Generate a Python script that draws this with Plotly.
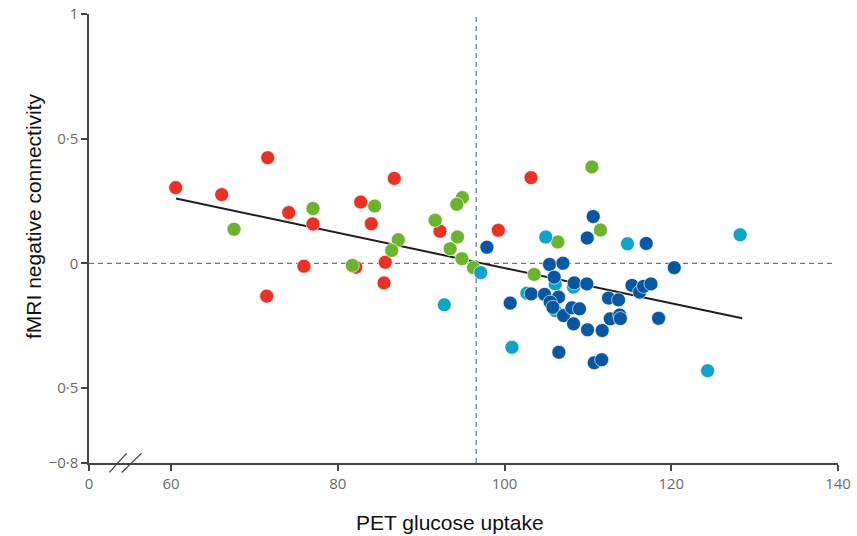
import plotly.graph_objects as go

# Data (PET glucose uptake vs fMRI negative connectivity)
red_x = [60.56, 66.08, 71.60, 74.12, 77.03, 75.95, 71.48, 82.15, 82.75, 84.02, 86.78, 85.70, 85.55, 92.26, 99.26, 103.18]
red_y = [0.304, 0.276, 0.424, 0.204, 0.158, -0.011, -0.131, -0.015, 0.246, 0.159, 0.341, 0.005, -0.078, 0.129, 0.133, 0.344]

green_x = [67.56, 77.03, 84.43, 87.26, 86.47, 81.75, 94.95, 94.28, 91.68, 94.36, 93.48, 94.89, 96.28, 103.56, 110.48, 111.51, 106.40]
green_y = [0.137, 0.220, 0.230, 0.095, 0.052, -0.008, 0.264, 0.237, 0.173, 0.106, 0.059, 0.019, -0.017, -0.044, 0.387, 0.134, 0.086]

light_x = [92.78, 97.15, 104.95, 114.75, 128.26, 124.36, 100.89, 102.69, 106.08, 108.28, 106.08]
light_y = [-0.166, -0.037, 0.106, 0.079, 0.115, -0.430, -0.336, -0.119, -0.082, -0.095, -0.189]

dark_x = [97.89, 110.64, 109.92, 117.00, 120.36, 105.40, 107.01, 105.96, 108.36, 109.88,
          103.20, 104.80, 106.48, 100.68, 105.48, 105.80, 107.08, 108.08, 109.00, 108.28,
          109.96, 111.72, 106.52, 110.76, 111.66, 115.29, 116.20, 116.68, 117.57, 112.48,
          113.68, 112.68, 113.82, 118.48, 113.90]
dark_y = [0.065, 0.188, 0.102, 0.080, -0.017, -0.004, 0.001, -0.055, -0.078, -0.082,
          -0.122, -0.124, -0.135, -0.159, -0.155, -0.176, -0.209, -0.178, -0.182, -0.242,
          -0.266, -0.269, -0.356, -0.398, -0.386, -0.088, -0.115, -0.092, -0.082, -0.139,
          -0.146, -0.222, -0.207, -0.220, -0.221]

fit_x = [60.6, 128.5]
fit_y = [0.26, -0.22]

x_cut = 96.6  # vertical reference line
x_break_origin = 50.165  # position where the "0" tick sits (broken axis)

x_tickvals = [x_break_origin, 60, 80, 100, 120, 140]
x_ticktext = ["0", "60", "80", "100", "120", "140"]
y_tickvals = [1, 0.5, 0, -0.5, -0.8]
y_ticktext = ["1", "0·5", "0", "0·5", "−0·8"]

fig = go.Figure()

fig.add_trace(go.Scatter(x=fit_x, y=fit_y, mode="lines",
                         line=dict(color="#1e1e1e", width=2), showlegend=False, hoverinfo="skip"))

marker_line = dict(color="rgba(255,255,255,0.8)", width=0.8)
for xs, ys, col in [(red_x, red_y, "#ea3224"),
                    (green_x, green_y, "#6cb32e"),
                    (light_x, light_y, "#11a3c7"),
                    (dark_x, dark_y, "#0757a3")]:
    fig.add_trace(go.Scatter(x=xs, y=ys, mode="markers",
                             marker=dict(color=col, size=14, line=marker_line),
                             showlegend=False))

dash_col = "#587c8e"
fig.add_shape(type="line", xref="x", yref="y", x0=x_break_origin, x1=139.4, y0=0, y1=0,
              line=dict(color=dash_col, width=1.2, dash="5px,4px"), layer="below")
fig.add_shape(type="line", xref="x", yref="y", x0=x_cut, x1=x_cut, y0=-0.8, y1=1,
              line=dict(color=dash_col, width=1.2, dash="5px,4px"), layer="below")

# axis break slashes
for x0, x1 in [(0.0271, 0.0503), (0.0437, 0.0704)]:
    fig.add_shape(type="line", xref="paper", yref="paper", x0=x0, x1=x1, y0=-0.021, y1=0.022,
                  line=dict(color="#444444", width=1.3))

tick_font = dict(family="Open Sans, Noto Sans, sans-serif", size=15, color="#6a6a6a")

fig.update_xaxes(range=[x_break_origin, 140], tickvals=x_tickvals, ticktext=x_ticktext,
                 showline=True, linecolor="#444444", linewidth=1.5, ticks="outside",
                 ticklen=6, tickwidth=1.5, tickcolor="#444444", showgrid=False, zeroline=False,
                 tickfont=tick_font, automargin=False, ticklabeloverflow="allow")
fig.update_yaxes(range=[-0.8, 1], tickvals=y_tickvals, ticktext=y_ticktext,
                 showline=True, linecolor="#444444", linewidth=1.5, ticks="outside",
                 ticklen=6, tickwidth=1.5, tickcolor="#444444", showgrid=False, zeroline=False,
                 tickfont=tick_font, automargin=False, ticklabeloverflow="allow")

title_font = dict(family="Liberation Sans, Arial, sans-serif", size=21, color="#111111")
fig.add_annotation(text="PET glucose uptake", xref="paper", yref="paper",
                   x=(450 - 89) / 749, y=-(522 - 463) / 449, showarrow=False,
                   font=title_font, xanchor="center", yanchor="middle")
fig.add_annotation(text="fMRI negative connectivity", xref="paper", yref="paper",
                   x=-(89 - 33) / 749, y=(463 - 216) / 449, showarrow=False, textangle=-90,
                   font=title_font, xanchor="center", yanchor="middle")

fig.update_layout(width=857, height=536, margin=dict(l=89, r=19, t=14, b=73, pad=0),
                  plot_bgcolor="white", paper_bgcolor="white")

# remove the default page margin so the figure fills the window exactly
fig.write_html("out.html", config={"displayModeBar": False},
               post_script="document.body.style.margin='0';document.body.style.overflow='hidden';")
